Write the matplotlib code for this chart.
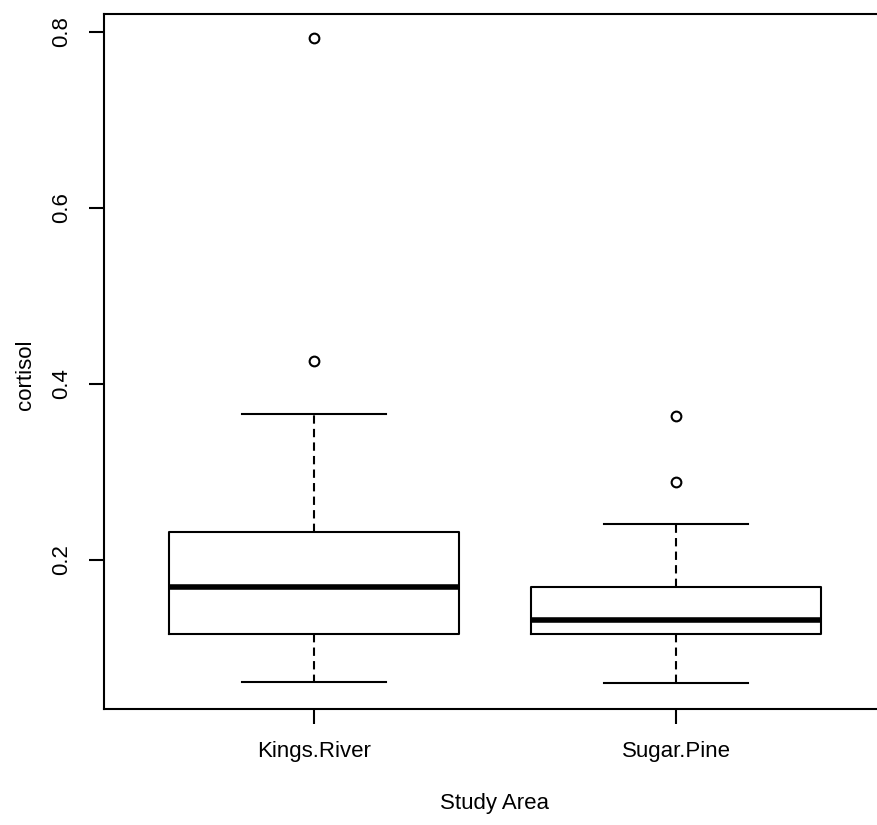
import matplotlib
matplotlib.use("Agg")
import matplotlib.pyplot as plt

plt.rcParams['font.family'] = ['Liberation Sans', 'DejaVu Sans']

# five-number summaries per study area
areas = ["Kings.River", "Sugar.Pine"]
whisker_low = [0.061, 0.0606]
q1 = [0.1155, 0.1155]
medians = [0.1697, 0.1318]
q3 = [0.2315, 0.1697]
whisker_high = [0.3655, 0.2405]
outliers = [[0.4265, 0.7935], [0.2883, 0.3636]]

stats = []
for i, name in enumerate(areas):
    stats.append(dict(label=name, whislo=whisker_low[i], q1=q1[i], med=medians[i],
                      q3=q3[i], whishi=whisker_high[i], fliers=outliers[i]))

fig = plt.figure(figsize=(8.77, 8.25), dpi=100)
ax = fig.add_axes([104/877, 1-709/825, (886-104)/877, (709-14)/825])

lw = 1.5
ax.bxp(stats, positions=[1, 2], widths=0.8,
       boxprops=dict(color='black', linewidth=lw),
       medianprops=dict(color='black', linewidth=4.0, solid_capstyle='butt'),
       whiskerprops=dict(color='black', linewidth=lw, linestyle=(0, (4, 2.5))),
       capprops=dict(color='black', linewidth=lw),
       capwidths=0.4,
       flierprops=dict(marker='o', markersize=7, markerfacecolor='none',
                       markeredgecolor='black', markeredgewidth=1.5, linestyle='none'))

ax.set_xlim(0.42, 2.58)
ax.set_ylim(0.0307, 0.8205)
ax.set_yticks([0.2, 0.4, 0.6, 0.8])
ax.set_yticklabels(["0.2", "0.4", "0.6", "0.8"], rotation=90, va='center')
ax.set_xticks([1, 2])
ax.set_xticklabels(areas)

for s in ax.spines.values():
    s.set_linewidth(1.5)
    s.set_color('black')
ax.tick_params(axis='both', length=11, width=1.5, labelsize=16, pad=12, color='black')

fig.text(25/877, 1-375/825, "cortisol", rotation=90, ha='center', va='center', fontsize=16)
fig.text(495/877, 1-804/825, "Study Area", ha='center', va='center', fontsize=16)

fig.savefig("out.png", dpi=100)
